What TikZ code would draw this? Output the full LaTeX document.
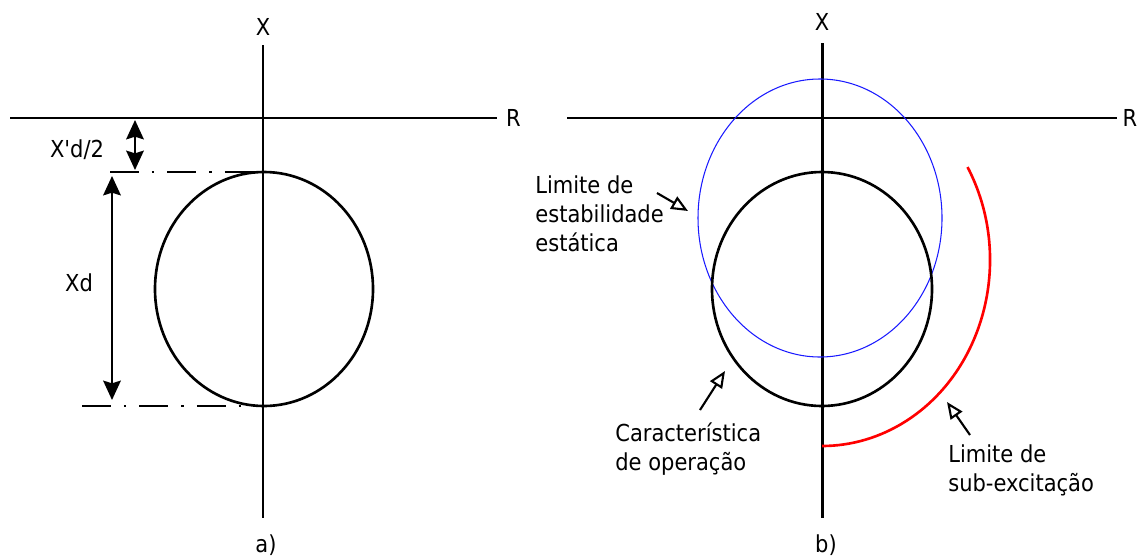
\documentclass[tikz,border=0pt]{standalone}
\usepackage{fontspec}
\setmainfont{DejaVu Sans Condensed}
\usepackage{xcolor}
\definecolor{stabblue}{HTML}{1A1AFF}
\definecolor{excred}{HTML}{FF0000}
\usepackage{tikz}
\usetikzlibrary{arrows.meta,positioning}
\tikzset{
    axis_line/.style={line width=1.7pt, black},
    dash_dot/.style={line width=1.5pt, dash pattern=on 16.4pt off 7.4pt on 1.3pt off 7.6pt},
    dim_arrow/.style={{Stealth[length=11pt,width=10pt,inset=1.5pt]}-{Stealth[length=11pt,width=10pt,inset=1.5pt]}, line width=1.3pt},
    pointer/.style={-{Triangle[open,length=9.5pt,width=8pt]}, line width=1.2pt},
    note/.style={align=left, anchor=west}
}

\begin{document}
\begin{tikzpicture}[
    x=0.02cm, y=-0.02cm,
    every node/.style={font=\fontsize{13.3}{16.4}\selectfont, inner sep=0pt},
    curve_op/.style={line width=1.5pt, black},
    curve_stab/.style={draw=stabblue, line width=0.6pt},
    curve_exc/.style={draw=excred, line width=1.5pt}
]
  \useasboundingbox (0,0) rectangle (1142,558);

  % a) axes
  \coordinate (a_top) at (263,45);
  \coordinate (a_bot) at (263,518);
  \coordinate (a_left) at (10,118);
  \coordinate (a_right) at (497,118);
  \draw[axis_line] (a_top) -- (a_bot);
  \draw[axis_line] (a_left) -- (a_right);
  \node[above=5pt of a_top] (a_xlbl) {X};
  \node[right=5pt of a_right] (a_rlbl) {R};

  % a) operating characteristic
  \draw[curve_op] (264,289) ellipse [x radius=109, y radius=117];

  % a) offset and diameter
  \coordinate (dd_top_l) at (110,172);
  \coordinate (dd_top_r) at (263,172);
  \coordinate (dd_bot_l) at (82,406);
  \coordinate (dd_bot_r) at (263,406);
  \draw[dash_dot] (dd_top_l) -- (dd_top_r);
  \draw[dash_dot] (dd_bot_l) -- (dd_bot_r);
  \coordinate (off_a) at (135,120);
  \coordinate (off_b) at (135,170);
  \coordinate (dia_a) at (112,176);
  \coordinate (dia_b) at (112,400);
  \draw[dim_arrow] (off_a) -- (off_b);
  \draw[dim_arrow] (dia_a) -- (dia_b);
  \node (off_lbl) at (77,150) {X\textquotesingle d/2};
  \node (dia_lbl) at (79,283) {Xd};

  \node (cap_a) at (266,545) {a)};

  % b) axes
  \coordinate (b_top) at (822,43);
  \coordinate (b_bot) at (822,518);
  \coordinate (b_left) at (567,118);
  \coordinate (b_right) at (1117,118);
  \draw[axis_line] (b_top) -- (b_bot);
  \draw[axis_line] (b_left) -- (b_right);
  \node[above=7pt of b_top] (b_xlbl) {X};
  \node[right=3pt of b_right] (b_rlbl) {R};

  % b) curves
  \draw[curve_stab] (820,218) ellipse [x radius=122, y radius=139];
  \draw[curve_op] (822,289) ellipse [x radius=110, y radius=117];
  \draw[curve_exc] (967.5,167) arc [start angle=-30, end angle=90, x radius=168, y radius=186];

  % b) labels
  \node[note] (lbl_stab) at (535,214) {Limite de\\estabilidade\\estática};
  \node[note] (lbl_op) at (615,449) {Característica\\de operação};
  \node[note] (lbl_exc) at (948,470) {Limite de\\sub-excitação};

  \coordinate (stab_tail) at (657,193);
  \coordinate (stab_tip) at (688,211);
  \coordinate (op_tail) at (700,410);
  \coordinate (op_tip) at (725,371);
  \coordinate (exc_tail) at (970,435);
  \coordinate (exc_tip) at (947,402);
  \draw[pointer] (stab_tail) -- (stab_tip);
  \draw[pointer] (op_tail) -- (op_tip);
  \draw[pointer] (exc_tail) -- (exc_tip);

  \node (cap_b) at (826,545) {b)};

\end{tikzpicture}
\end{document}
